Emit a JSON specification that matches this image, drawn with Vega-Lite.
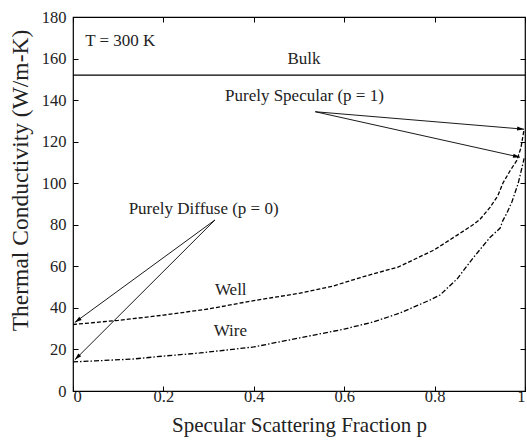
{
  "$schema": "https://vega.github.io/schema/vega-lite/v6.json",
  "autosize": "none",
  "padding": {"left": 73, "top": 17, "right": 2, "bottom": 57},
  "width": 452,
  "height": 374,
  "config": {
    "view": {"stroke": "black", "strokeWidth": 1.2},
    "axis": {
      "grid": false,
      "domain": false,
      "tickColor": "black",
      "tickSize": -5,
      "labelFont": "Liberation Serif",
      "labelFontSize": 16.5,
      "labelColor": "#222",
      "titleFont": "Liberation Serif",
      "titleFontWeight": "normal",
      "titleColor": "#222"
    },
    "text": {"font": "Liberation Serif", "fontSize": 17, "color": "#222"}
  },
  "datasets": {
    "curves": [
      {"p": 0, "k": 32, "series": "Well"},
      {"p": 0.05, "k": 33, "series": "Well"},
      {"p": 0.1, "k": 34, "series": "Well"},
      {"p": 0.2, "k": 36.5, "series": "Well"},
      {"p": 0.3, "k": 39.5, "series": "Well"},
      {"p": 0.4, "k": 43.5, "series": "Well"},
      {"p": 0.5, "k": 47, "series": "Well"},
      {"p": 0.575, "k": 50.5, "series": "Well"},
      {"p": 0.65, "k": 55.5, "series": "Well"},
      {"p": 0.72, "k": 59.7, "series": "Well"},
      {"p": 0.8, "k": 68, "series": "Well"},
      {"p": 0.85, "k": 75, "series": "Well"},
      {"p": 0.885, "k": 80, "series": "Well"},
      {"p": 0.9, "k": 82.5, "series": "Well"},
      {"p": 0.923, "k": 88.5, "series": "Well"},
      {"p": 0.94, "k": 94, "series": "Well"},
      {"p": 0.951, "k": 100, "series": "Well"},
      {"p": 0.967, "k": 106, "series": "Well"},
      {"p": 0.982, "k": 111, "series": "Well"},
      {"p": 0.991, "k": 117, "series": "Well"},
      {"p": 0.998, "k": 126, "series": "Well"},
      {"p": 0, "k": 14, "series": "Wire"},
      {"p": 0.05, "k": 14.5, "series": "Wire"},
      {"p": 0.133, "k": 15.4, "series": "Wire"},
      {"p": 0.2, "k": 16.8, "series": "Wire"},
      {"p": 0.281, "k": 18.3, "series": "Wire"},
      {"p": 0.4, "k": 21.2, "series": "Wire"},
      {"p": 0.5, "k": 25.5, "series": "Wire"},
      {"p": 0.6, "k": 29.8, "series": "Wire"},
      {"p": 0.664, "k": 33.2, "series": "Wire"},
      {"p": 0.723, "k": 37.5, "series": "Wire"},
      {"p": 0.79, "k": 43.8, "series": "Wire"},
      {"p": 0.812, "k": 46.2, "series": "Wire"},
      {"p": 0.85, "k": 54, "series": "Wire"},
      {"p": 0.885, "k": 64, "series": "Wire"},
      {"p": 0.923, "k": 74, "series": "Wire"},
      {"p": 0.945, "k": 78.4, "series": "Wire"},
      {"p": 0.951, "k": 82, "series": "Wire"},
      {"p": 0.96, "k": 85.7, "series": "Wire"},
      {"p": 0.971, "k": 91, "series": "Wire"},
      {"p": 0.985, "k": 100, "series": "Wire"},
      {"p": 0.996, "k": 110, "series": "Wire"},
      {"p": 0.998, "k": 112, "series": "Wire"}
    ],
    "arrows": [
      {"id": "spec_well", "p1": 0.536, "k1": 134.4, "p2": 0.998, "k2": 126},
      {"id": "spec_wire", "p1": 0.536, "k1": 134.4, "p2": 0.989, "k2": 112.5},
      {"id": "diff_well", "p1": 0.314, "k1": 82.3, "p2": 0.004, "k2": 33},
      {"id": "diff_wire", "p1": 0.314, "k1": 82.3, "p2": 0.004, "k2": 15}
    ],
    "labels": [
      {"p": 0.511, "k": 157.5, "text": "Bulk"},
      {"p": 0.512, "k": 139.5, "text": "Purely Specular (p = 1)"},
      {"p": 0.289, "k": 85, "text": "Purely Diffuse (p = 0)"},
      {"p": 0.349, "k": 46.2, "text": "Well"},
      {"p": 0.348, "k": 26.5, "text": "Wire"}
    ]
  },
  "resolve": {"axis": {"x": "independent", "y": "independent"}},
  "layer": [
    {
      "data": {"name": "curves"},
      "transform": [{"filter": "datum.series === 'Well'"}],
      "mark": {"type": "line", "color": "black", "strokeWidth": 1.3, "strokeDash": [4, 2]},
      "encoding": {
        "x": {"field": "p", "type": "quantitative", "scale": {"domain": [0, 1], "nice": false},
              "axis": {"orient": "bottom", "values": [0, 0.2, 0.4, 0.6, 0.8, 1], "format": "~g", "labelPadding": 2, "title": "Specular Scattering Fraction p", "titleFontSize": 21, "titleBaseline": "alphabetic", "titleY": 40}},
        "y": {"field": "k", "type": "quantitative", "scale": {"domain": [0, 180], "nice": false},
              "axis": {"orient": "left", "values": [0, 20, 40, 60, 80, 100, 120, 140, 160, 180], "labelPadding": 12, "title": "Thermal Conductivity (W/m-K)", "titleFontSize": 23.5, "titlePadding": 9, "titleY": 163}}
      }
    },
    {
      "data": {"name": "curves"},
      "transform": [{"filter": "datum.series === 'Wire'"}],
      "mark": {"type": "line", "color": "black", "strokeWidth": 1.3, "strokeDash": [5, 2, 1.5, 2]},
      "encoding": {
        "x": {"field": "p", "type": "quantitative",
              "axis": {"orient": "top", "values": [0, 0.2, 0.4, 0.6, 0.8, 1], "labels": false, "title": null}},
        "y": {"field": "k", "type": "quantitative",
              "axis": {"orient": "right", "values": [0, 20, 40, 60, 80, 100, 120, 140, 160, 180], "labels": false, "title": null}}
      }
    },
    {
      "data": {"values": [{"k": 152}]},
      "mark": {"type": "rule", "color": "black", "strokeWidth": 1.3},
      "encoding": {"y": {"field": "k", "type": "quantitative", "axis": null}}
    },
    {
      "data": {"name": "arrows"},
      "mark": {"type": "rule", "color": "black", "strokeWidth": 0.9},
      "encoding": {
        "x": {"field": "p1", "type": "quantitative", "axis": null},
        "y": {"field": "k1", "type": "quantitative", "axis": null},
        "x2": {"field": "p2"},
        "y2": {"field": "k2"}
      }
    },
    {
      "data": {"name": "arrows"},
      "transform": [{"filter": "datum.id === 'spec_well'"}],
      "mark": {"type": "point", "shape": "M0,0L-0.4,1.4L0.4,1.4Z", "filled": true, "color": "black", "opacity": 1, "size": 100, "angle": 95},
      "encoding": {"x": {"field": "p2", "type": "quantitative", "axis": null}, "y": {"field": "k2", "type": "quantitative", "axis": null}}
    },
    {
      "data": {"name": "arrows"},
      "transform": [{"filter": "datum.id === 'spec_wire'"}],
      "mark": {"type": "point", "shape": "M0,0L-0.4,1.4L0.4,1.4Z", "filled": true, "color": "black", "opacity": 1, "size": 100, "angle": 102.5},
      "encoding": {"x": {"field": "p2", "type": "quantitative", "axis": null}, "y": {"field": "k2", "type": "quantitative", "axis": null}}
    },
    {
      "data": {"name": "arrows"},
      "transform": [{"filter": "datum.id === 'diff_well'"}],
      "mark": {"type": "point", "shape": "M0,0L-0.4,1.4L0.4,1.4Z", "filled": true, "color": "black", "opacity": 1, "size": 100, "angle": 233.6},
      "encoding": {"x": {"field": "p2", "type": "quantitative", "axis": null}, "y": {"field": "k2", "type": "quantitative", "axis": null}}
    },
    {
      "data": {"name": "arrows"},
      "transform": [{"filter": "datum.id === 'diff_wire'"}],
      "mark": {"type": "point", "shape": "M0,0L-0.4,1.4L0.4,1.4Z", "filled": true, "color": "black", "opacity": 1, "size": 100, "angle": 225},
      "encoding": {"x": {"field": "p2", "type": "quantitative", "axis": null}, "y": {"field": "k2", "type": "quantitative", "axis": null}}
    },
    {
      "data": {"name": "labels"},
      "mark": {"type": "text", "align": "center", "baseline": "alphabetic"},
      "encoding": {
        "x": {"field": "p", "type": "quantitative", "axis": null},
        "y": {"field": "k", "type": "quantitative", "axis": null},
        "text": {"field": "text"}
      }
    },
    {
      "data": {"values": [{"p": 0.027, "k": 166, "text": "T = 300 K"}]},
      "mark": {"type": "text", "align": "left", "baseline": "alphabetic", "fontSize": 17},
      "encoding": {
        "x": {"field": "p", "type": "quantitative", "axis": null},
        "y": {"field": "k", "type": "quantitative", "axis": null},
        "text": {"field": "text"}
      }
    }
  ]
}
